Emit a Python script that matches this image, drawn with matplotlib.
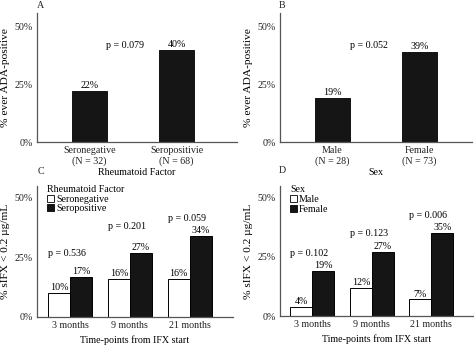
import matplotlib
matplotlib.use("Agg")
import matplotlib.pyplot as plt
from matplotlib.patches import Patch

plt.rcParams['font.family'] = ['Liberation Serif', 'DejaVu Serif']
plt.rcParams['font.size'] = 7.2

# --- data ---
rf_labels = ["Seronegative\n(N = 32)", "Seropositivie\n(N = 68)"]
rf_ada = [22, 40]
sex_labels = ["Male\n(N = 28)", "Female\n(N = 73)"]
sex_ada = [19, 39]

timepoints = ["3 months", "9 months", "21 months"]
rf_neg_sifx = [10, 16, 16]
rf_pos_sifx = [17, 27, 34]
rf_pvals = ["p = 0.536", "p = 0.201", "p = 0.059"]
male_sifx = [4, 12, 7]
female_sifx = [19, 27, 35]
sex_pvals = ["p = 0.102", "p = 0.123", "p = 0.006"]

W, H = 474, 346
fig = plt.figure(figsize=(W / 100, H / 100), dpi=100)
AX_COL = "#555555"
DARK = "#151515"
YLAB_SIZE = 8.2


def px_axes(x0, x1, ytop, ybot):
    ax = fig.add_axes([x0 / W, 1 - ybot / H, (x1 - x0) / W, (ybot - ytop) / H])
    for s in ["top", "right"]:
        ax.spines[s].set_visible(False)
    for s in ["left", "bottom"]:
        ax.spines[s].set_color(AX_COL)
        ax.spines[s].set_linewidth(0.9)
    ax.tick_params(length=0, pad=3, colors="#222222")
    ax.set_yticks([0, 25, 50], ["0%", "25%", "50%"])
    return ax


def top_panel(ax, labels, vals, pval, xlabel, ptxt_x):
    x = range(len(vals))
    ax.bar(x, vals, width=0.40, color=DARK, edgecolor="black", linewidth=0.6)
    for xi, v in zip(x, vals):
        ax.text(xi, v + 0.4, f"{v}%", ha="center", va="bottom")
    ax.set_xticks(list(x), labels)
    ax.set_ylim(0, 56)
    ax.set_ylabel("% ever ADA-positive", labelpad=3, fontsize=YLAB_SIZE)
    ax.set_xlabel(xlabel, labelpad=1)
    ax.text(ptxt_x, 42, pval, ha="center", va="center")


def bottom_panel(ax, white, black, pvals, ptxt_y, title, names):
    x = list(range(len(white)))
    w = 0.37
    ax.bar([i - w / 2 for i in x], white, width=w, color="white", edgecolor="black", linewidth=0.7)
    ax.bar([i + w / 2 for i in x], black, width=w, color=DARK, edgecolor="black", linewidth=0.7)
    for i in x:
        ax.text(i - w / 2, white[i] + 0.4, f"{white[i]}%", ha="center", va="bottom")
        ax.text(i + w / 2, black[i] + 0.4, f"{black[i]}%", ha="center", va="bottom")
        ax.text(i - 0.05, ptxt_y[i], pvals[i], ha="center", va="center")
    ax.set_xticks(x, timepoints)
    ax.set_ylim(0, 55)
    ax.set_ylabel("% sIFX < 0.2 µg/mL", labelpad=3, fontsize=YLAB_SIZE)
    ax.set_xlabel("Time-points from IFX start", labelpad=4)
    handles = [Patch(facecolor="white", edgecolor="black", linewidth=0.6),
               Patch(facecolor=DARK, edgecolor="black", linewidth=0.6)]
    ax.legend(handles, names, title=title, loc="upper left", bbox_to_anchor=(0.02, 1.05),
              frameon=False, handlelength=0.7, handleheight=0.7, handletextpad=0.2,
              labelspacing=0.05, borderpad=0.1, alignment="left", title_fontsize=7.2)


# A
axA = px_axes(37, 237, 13, 142)
axA.set_xlim(-0.603, 1.695)
top_panel(axA, rf_labels, rf_ada, "p = 0.079", "Rheumatoid Factor", 0.41)

# B
axB = px_axes(280, 472, 13, 142)
axB.set_xlim(-0.603, 1.60)
top_panel(axB, sex_labels, sex_ada, "p = 0.052", "Sex", 0.42)

# C
axC = px_axes(37, 233, 186, 317)
axC.set_xlim(-0.55, 2.72)
bottom_panel(axC, rf_neg_sifx, rf_pos_sifx, rf_pvals, [26.5, 38, 41.5],
             "Rheumatoid Factor", ["Seronegative", "Seropositive"])

# D
axD = px_axes(280, 474, 186, 316)
axD.set_xlim(-0.546, 2.72)
bottom_panel(axD, male_sifx, female_sifx, sex_pvals, [26.5, 35, 42.5],
             "Sex", ["Male", "Female"])

for lab, xp, yp in [("A", 37, 6), ("B", 279, 5), ("C", 38, 172), ("D", 279, 171)]:
    fig.text(xp / W, 1 - yp / H, lab, ha="left", va="center", color="#222222")

fig.savefig("out.png", dpi=100)
